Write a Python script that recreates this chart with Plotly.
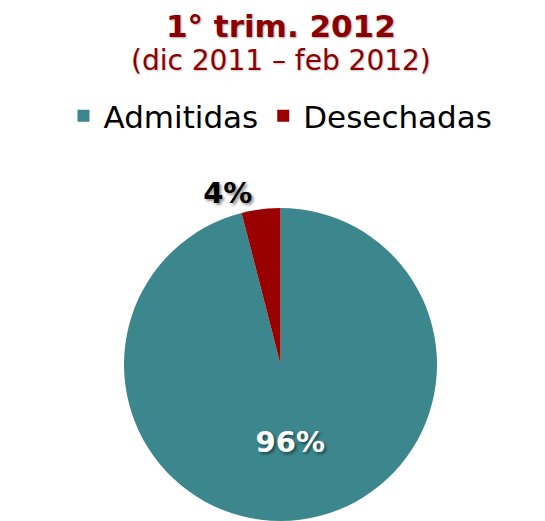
import plotly.graph_objects as go

labels = ["Admitidas", "Desechadas"]
values = [96, 4]
colors = ["#3B878D", "#990000"]
label_colors = ["#FFFFFF", "#000000"]
label_positions = ["inside", "outside"]

title_text = "1° trim. 2012"
subtitle_text = "(dic 2011 – feb 2012)"

W, H = 545, 521
MT, MB = 200, 8
plot_h = H - MT - MB


def ypaper(py):
    return (H - MB - py) / plot_h


fig = go.Figure(
    go.Pie(
        labels=labels,
        values=values,
        sort=False,
        direction="clockwise",
        rotation=0,
        marker=dict(colors=colors, line=dict(width=0)),
        texttemplate="%{percent:.0%}",
        textposition=label_positions,
        textfont=dict(family="DejaVu Sans", size=29, color=label_colors, weight="bold",
                      shadow="2px 2px 3px rgba(0,0,0,0.45)"),
        insidetextorientation="horizontal",
        hoverinfo="label+percent",
        domain=dict(x=[0, 1], y=[0, 1]),
    )
)

fig.update_layout(
    width=W,
    height=H,
    paper_bgcolor="white",
    plot_bgcolor="white",
    margin=dict(l=10, r=10, t=MT, b=MB, autoexpand=False),
    legend=dict(
        orientation="h",
        x=0.5, xanchor="center",
        yref="paper", y=ypaper(108), yanchor="middle",
        font=dict(family="DejaVu Sans", size=31, color="#000000"),
        traceorder="normal",
    ),
    showlegend=True,
    annotations=[
        dict(text=f"<b>{title_text}</b>", xref="paper", yref="paper",
             x=0.5, y=ypaper(18), xanchor="center", yanchor="middle", showarrow=False,
             font=dict(family="DejaVu Sans", size=31, color="#8B0000",
                       shadow="1px 1px 2px rgba(0,0,0,0.35)")),
        dict(text=subtitle_text, xref="paper", yref="paper",
             x=0.5, y=ypaper(52), xanchor="center", yanchor="middle", showarrow=False,
             font=dict(family="DejaVu Sans", size=28, color="#8B0000",
                       shadow="1px 1px 2px rgba(0,0,0,0.25)")),
    ],
)

fig.write_html("out.html")
